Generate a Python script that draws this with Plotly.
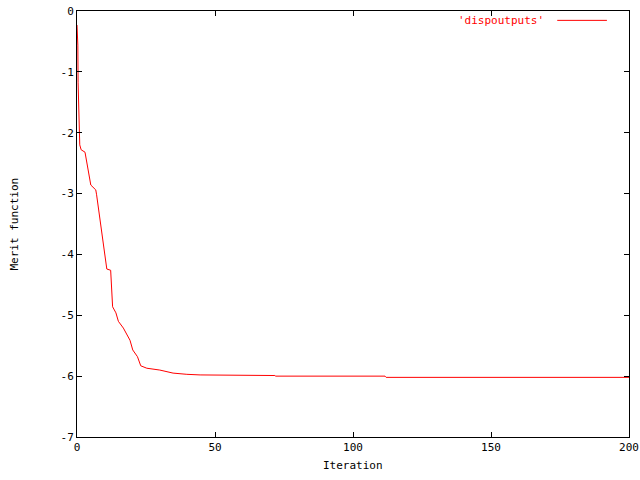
import plotly.graph_objects as go

iteration = [0, 0.3, 0.4, 0.7, 1.0, 1.5, 2.9, 5.0, 6.8, 7.1, 9.3, 10.8, 12.2, 12.9, 14.1, 15.0,
             16.8, 19.2, 20.2, 21.9, 23.1, 25.3, 30.0, 34.8, 39.8, 44.6, 71.7, 72.0, 111.6, 112.0, 200]
merit = [-0.23, -0.56, -1.18, -1.85, -2.2, -2.28, -2.32, -2.86, -2.94, -3.02, -3.76, -4.24, -4.26,
         -4.86, -4.96, -5.10, -5.21, -5.41, -5.57, -5.68, -5.83, -5.87, -5.90, -5.95, -5.97, -5.98,
         -5.99, -6.00, -6.00, -6.02, -6.02]

x_ticks = [0, 50, 100, 150, 200]
y_ticks = [0, -1, -2, -3, -4, -5, -6, -7]
series_name = "'dispoutputs'"

FONT = "DejaVu Sans Mono"

fig = go.Figure()
fig.add_trace(go.Scatter(x=iteration, y=merit, mode="lines",
                         line=dict(color="red", width=1), showlegend=False))

axis_common = dict(showgrid=False, zeroline=False, showline=True, linecolor="black", linewidth=1,
                   mirror="ticks", ticks="inside", ticklen=5, tickcolor="black", automargin=False,
                   tickfont=dict(family=FONT, size=11, color="black"))

fig.update_layout(
    width=640, height=480,
    margin=dict(l=77, r=11, t=11, b=43),
    paper_bgcolor="white", plot_bgcolor="white",
    font=dict(family=FONT, size=11, color="black"),
    xaxis=dict(range=[0, 200], tickvals=x_ticks, ticktext=[str(v) for v in x_ticks],
               **axis_common),
    yaxis=dict(range=[-7, 0], tickvals=y_ticks, ticktext=[str(v) for v in y_ticks],
               **axis_common),
    annotations=[
        dict(text=series_name, x=0.85, y=0.978, xref="paper", yref="paper",
             xanchor="right", yanchor="middle", showarrow=False,
             font=dict(family=FONT, size=11, color="red")),
        dict(text="Iteration", x=0.5, y=0, xref="paper", yref="paper",
             yshift=-20, yanchor="top", showarrow=False,
             font=dict(family=FONT, size=11, color="black")),
        dict(text="Merit function", x=0, y=0.5, xref="paper", yref="paper", textangle=-90,
             xshift=-72, showarrow=False, font=dict(family=FONT, size=11, color="black")),
    ],
    shapes=[dict(type="line", xref="paper", yref="paper", x0=0.87, x1=0.96, y0=0.978, y1=0.978,
                 line=dict(color="red", width=1))],
)

fig.write_html("out.html", config={"displayModeBar": False},
               post_script="document.body.style.margin='0';document.body.style.overflow='hidden';")
